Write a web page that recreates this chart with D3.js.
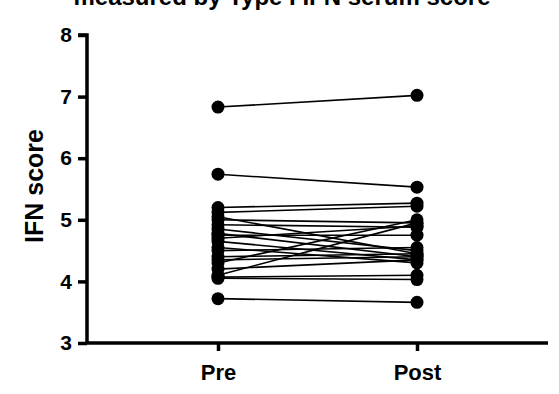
<!DOCTYPE html>
<html><head><meta charset="utf-8">
<script src="https://cdn.jsdelivr.net/npm/d3@7"></script>
<style>body{margin:0;background:#fff}svg{display:block}text{font-family:"Liberation Sans",Arial,sans-serif;font-weight:bold}</style>
</head><body>
<script>
const categories = ["Pre", "Post"];
const preValues  = [6.83,5.74,5.20,5.12,5.05,5.00,4.92,4.85,4.78,4.75,4.70,4.65,4.55,4.50,4.40,4.35,4.30,4.20,4.10,4.07,4.05,3.72];
const postValues = [7.02,5.53,5.27,5.22,4.45,4.95,4.88,4.50,4.40,4.75,4.90,4.35,4.30,4.55,4.45,4.40,5.00,4.35,4.95,4.10,4.03,3.66];
const yTicks = [3,4,5,6,7,8];
const title = "measured by Type I IFN serum score";
const yLabel = "IFN score";

const W=559,H=394;
const svg=d3.select("body").append("svg").attr("width",W).attr("height",H);
const x=d3.scalePoint().domain(categories).range([218,417]);
const y=d3.scaleLinear().domain([3,8]).range([343,35]);

svg.append("text").attr("x",282).attr("y",5).attr("text-anchor","middle").attr("font-size",24).text(title);

const yAx=svg.append("g").attr("transform","translate(87,0)")
  .call(d3.axisLeft(y).tickValues(yTicks).tickFormat(d3.format("d")).tickSize(9).tickPadding(6));
yAx.select(".domain").attr("stroke","#000").attr("stroke-width",3.5).attr("d","M-9,"+y(8)+"H0V"+y(3));
yAx.selectAll(".tick line").attr("stroke-width",3.5);
yAx.selectAll(".tick text").attr("font-size",21).attr("font-family","Liberation Sans, Arial, sans-serif").attr("font-weight","bold").attr("fill","#000");

const xAx=svg.append("g").attr("transform","translate(0,343)")
  .call(d3.axisBottom(x).tickSize(8).tickPadding(13));
xAx.select(".domain").attr("stroke-width",3.5).attr("d","M85.3,0H548");
xAx.selectAll(".tick line").attr("stroke-width",3.5);
xAx.selectAll(".tick text").attr("font-size",22).attr("font-family","Liberation Sans, Arial, sans-serif").attr("font-weight","bold").attr("fill","#000");

svg.append("text").attr("transform","translate(43,186) rotate(-90)").attr("text-anchor","middle").attr("font-size",25).text(yLabel);

const pairs=preValues.map((v,i)=>[v,postValues[i]]);
svg.append("g").selectAll("line").data(pairs).join("line")
  .attr("x1",x("Pre")).attr("x2",x("Post")).attr("y1",d=>y(d[0])).attr("y2",d=>y(d[1]))
  .attr("stroke","#000").attr("stroke-width",1.6);
const dots=svg.append("g");
dots.selectAll("circle.pre").data(preValues).join("circle").attr("class","pre")
  .attr("cx",x("Pre")).attr("cy",d=>y(d)).attr("r",6.5).attr("fill","#000");
dots.selectAll("circle.post").data(postValues).join("circle").attr("class","post")
  .attr("cx",x("Post")).attr("cy",d=>y(d)).attr("r",6.5).attr("fill","#000");
</script>
</body></html>
